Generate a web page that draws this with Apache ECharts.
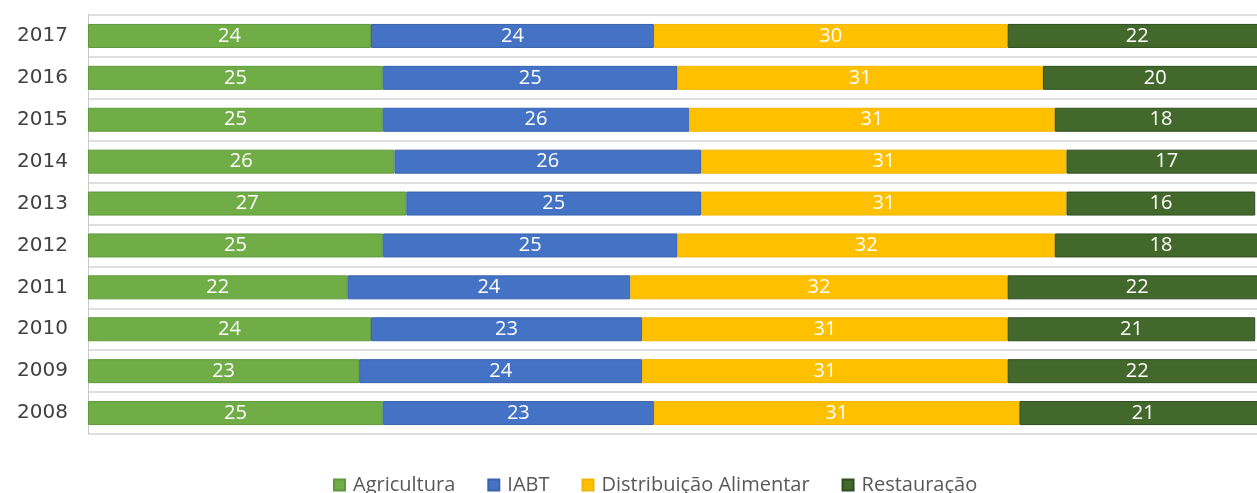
<!DOCTYPE html>
<html>
<head>
<meta charset="utf-8">
<script src="https://cdn.jsdelivr.net/npm/echarts@6/dist/echarts.min.js"></script>
<style>
    html, body { margin: 0; padding: 0; background: #fff; }
    #chart { width: 1257px; height: 493px; }
</style>
</head>
<body>
<div id="chart"></div>
<script>
    // anos (de baixo para cima)
    const years = ['2008', '2009', '2010', '2011', '2012', '2013', '2014', '2015', '2016', '2017'];
    const agricultura = [25, 23, 24, 22, 25, 27, 26, 25, 25, 24];
    const iabt = [23, 24, 23, 24, 25, 25, 26, 26, 25, 24];
    const distribuicao = [31, 31, 31, 32, 32, 31, 31, 31, 31, 30];
    const restauracao = [21, 22, 21, 22, 18, 16, 17, 18, 20, 22];

    const font = '"Open Sans", "Noto Sans", sans-serif';

    function makeSeries(name, data, color, border) {
        return {
            name: name,
            type: 'bar',
            stack: 'total',
            barWidth: 24,
            data: data,
            itemStyle: { color: color, borderColor: border, borderWidth: 1 },
            label: {
                show: true,
                position: 'inside',
                color: '#fff',
                fontSize: 20,
                fontFamily: font
            }
        };
    }

    let myChart = echarts.init(document.getElementById('chart'));
    myChart.setOption({
        animation: false,
        grid: {
            left: 88,
            top: 15,
            width: 1179,
            height: 419,
            outerBoundsMode: 'none'
        },
        legend: {
            top: 470,
            left: 328,
            icon: 'rect',
            itemWidth: 11,
            itemHeight: 11,
            itemGap: 32,
            textStyle: { fontSize: 20, color: '#595959', fontFamily: font, padding: [0, 0, 0, 3] }
        },
        xAxis: {
            type: 'value',
            min: 0,
            max: 100,
            show: false
        },
        yAxis: {
            type: 'category',
            data: years,
            axisLine: { show: true, lineStyle: { color: '#c8c8c8' } },
            axisTick: { show: false },
            axisLabel: {
                margin: 20,
                fontSize: 20,
                color: '#404040',
                fontFamily: '"DejaVu Sans", sans-serif'
            },
            splitLine: { show: true, lineStyle: { color: '#d4d4d4', width: 1.5 } }
        },
        series: [
            makeSeries('Agricultura', agricultura, '#70AD47', '#5f9a3a'),
            makeSeries('IABT', iabt, '#4472C4', '#3a63ad'),
            makeSeries('Distribuição Alimentar', distribuicao, '#FFC000', '#f2b500'),
            makeSeries('Restauração', restauracao, '#43682B', '#2f4d1e')
        ]
    });
</script>
</body>
</html>
